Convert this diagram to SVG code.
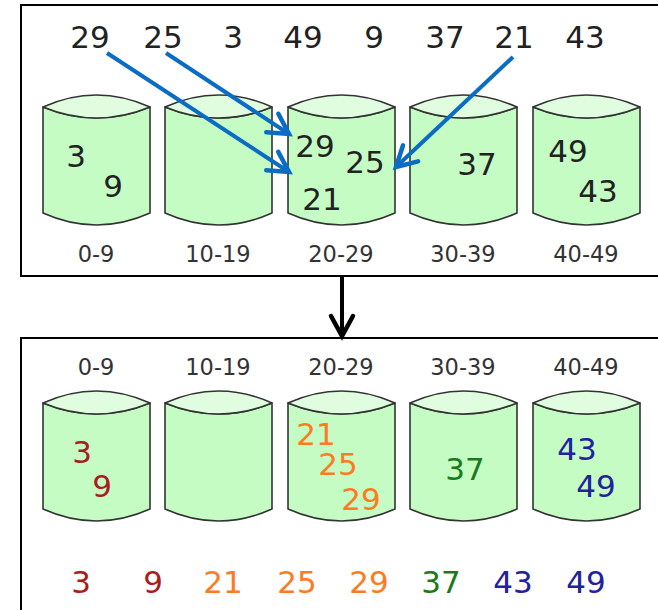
<svg xmlns="http://www.w3.org/2000/svg" width="658" height="610" viewBox="0 0 658 610">
  <defs>
    <style>
      .frame { fill: #ffffff; stroke: #000000; stroke-width: 2; }
      .body { fill: #c4fcc4; stroke: #333333; stroke-width: 1.6; stroke-linejoin: round; }
      .lid { fill: #e0fde0; stroke: #333333; stroke-width: 1.6; stroke-linejoin: round; }
      .num { font-family: "DejaVu Sans", Verdana, sans-serif; font-size: 31px; text-anchor: middle; fill: #222222; }
      .lbl { font-family: "DejaVu Sans", Verdana, sans-serif; font-size: 22.5px; text-anchor: middle; fill: #333333; }
      .red { fill: #a81e1e; }
      .orange { fill: #ff7a22; }
      .green { fill: #1c7a1c; }
      .blue { fill: #2222a0; }
      .flow { stroke: #0a6cc4; stroke-width: 4; fill: none; }
      .step { stroke: #000000; stroke-width: 4; fill: none; }
    </style>
    <!-- a bucket: body with curved bottom, lens-shaped lid -->
    <g id="bucket">
      <path class="body" d="M0,0 Q53.5,22 107,0 L107,106 Q53.5,130 0,106 Z"/>
      <path class="lid" d="M0,0 Q53.5,-24 107,0 Q53.5,22 0,0 Z"/>
    </g>
    <marker id="headBlue" markerUnits="userSpaceOnUse" markerWidth="40" markerHeight="40" viewBox="-30 -20 40 40" refX="0" refY="0" orient="auto">
      <path d="M-20,-11 L0,0 L-20,11" fill="none" stroke="#0a6cc4" stroke-width="4.5" stroke-linecap="round" stroke-linejoin="miter"/>
    </marker>
    <marker id="headBlack" markerUnits="userSpaceOnUse" markerWidth="40" markerHeight="40" viewBox="-30 -20 40 40" refX="0" refY="0" orient="auto">
      <path d="M-20,-11 L0,0 L-20,11" fill="none" stroke="#000000" stroke-width="4.5" stroke-linecap="round" stroke-linejoin="miter"/>
    </marker>
  </defs>

  <rect width="658" height="610" fill="#ffffff"/>

  <!-- scatter stage -->
  <g id="scatter-panel">
    <rect class="frame" x="21" y="5" width="660" height="271"/>
    <g id="input-values">
      <text class="num" x="90" y="48">29</text>
      <text class="num" x="163" y="48">25</text>
      <text class="num" x="233" y="48">3</text>
      <text class="num" x="303" y="48">49</text>
      <text class="num" x="374" y="48">9</text>
      <text class="num" x="445" y="48">37</text>
      <text class="num" x="514" y="48">21</text>
      <text class="num" x="585" y="48">43</text>
    </g>
    <g id="bucket-a0">
      <use href="#bucket" x="43" y="107"/>
      <text class="num" x="76" y="167">3</text>
      <text class="num" x="113" y="197">9</text>
      <text class="lbl" x="96" y="262">0-9</text>
    </g>
    <g id="bucket-a1">
      <use href="#bucket" x="165" y="107"/>
      <text class="lbl" x="218" y="262">10-19</text>
    </g>
    <g id="bucket-a2">
      <use href="#bucket" x="288" y="107"/>
      <text class="num" x="315" y="157">29</text>
      <text class="num" x="365" y="173">25</text>
      <text class="num" x="322" y="210">21</text>
      <text class="lbl" x="341" y="262">20-29</text>
    </g>
    <g id="bucket-a3">
      <use href="#bucket" x="410" y="107"/>
      <text class="num" x="477" y="175">37</text>
      <text class="lbl" x="463" y="262">30-39</text>
    </g>
    <g id="bucket-a4">
      <use href="#bucket" x="533" y="107"/>
      <text class="num" x="568" y="162">49</text>
      <text class="num" x="598" y="202">43</text>
      <text class="lbl" x="586" y="262">40-49</text>
    </g>
  </g>

  <!-- gather stage -->
  <g id="gather-panel">
    <rect class="frame" x="21" y="338" width="660" height="300"/>
    <g id="bucket-b0">
      <text class="lbl" x="96" y="375">0-9</text>
      <use href="#bucket" x="43" y="403"/>
      <text class="num red" x="82" y="463">3</text>
      <text class="num red" x="102" y="497">9</text>
    </g>
    <g id="bucket-b1">
      <text class="lbl" x="218" y="375">10-19</text>
      <use href="#bucket" x="165" y="403"/>
    </g>
    <g id="bucket-b2">
      <text class="lbl" x="341" y="375">20-29</text>
      <use href="#bucket" x="288" y="403"/>
      <text class="num orange" x="316" y="445">21</text>
      <text class="num orange" x="338" y="475">25</text>
      <text class="num orange" x="361" y="510">29</text>
    </g>
    <g id="bucket-b3">
      <text class="lbl" x="463" y="375">30-39</text>
      <use href="#bucket" x="410" y="403"/>
      <text class="num green" x="465" y="480">37</text>
    </g>
    <g id="bucket-b4">
      <text class="lbl" x="586" y="375">40-49</text>
      <use href="#bucket" x="533" y="403"/>
      <text class="num blue" x="577" y="460">43</text>
      <text class="num blue" x="596" y="497">49</text>
    </g>
    <g id="sorted-values">
      <text class="num red" x="81" y="593">3</text>
      <text class="num red" x="153" y="593">9</text>
      <text class="num orange" x="223" y="593">21</text>
      <text class="num orange" x="297" y="593">25</text>
      <text class="num orange" x="369" y="593">29</text>
      <text class="num green" x="441" y="593">37</text>
      <text class="num blue" x="513" y="593">43</text>
      <text class="num blue" x="586" y="593">49</text>
    </g>
  </g>

  <!-- connectors -->
  <g id="connectors">
    <line class="flow" x1="107" y1="53" x2="289" y2="172" marker-end="url(#headBlue)"/>
    <line class="flow" x1="166" y1="53" x2="289" y2="134" marker-end="url(#headBlue)"/>
    <line class="flow" x1="513" y1="57" x2="396" y2="167" marker-end="url(#headBlue)"/>
    <line class="step" x1="342" y1="276" x2="342" y2="336" marker-end="url(#headBlack)"/>
  </g>
</svg>
